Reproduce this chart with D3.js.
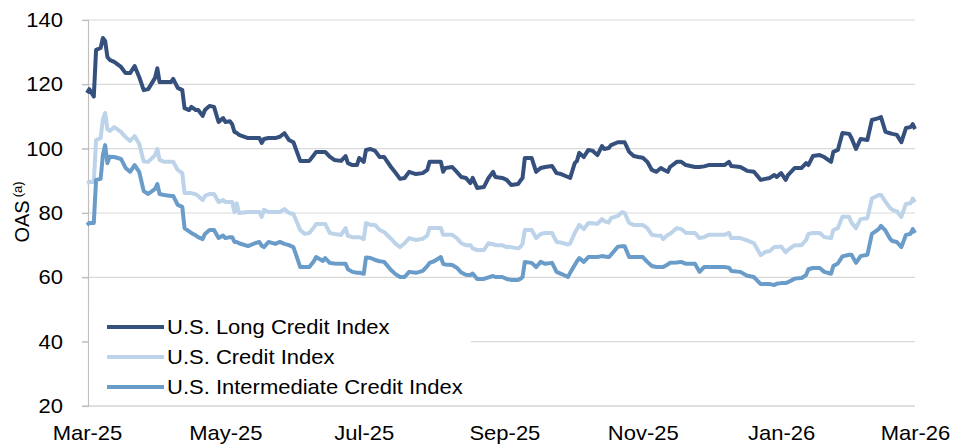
<!DOCTYPE html>
<html>
<head>
<meta charset="utf-8">
<script src="https://cdn.jsdelivr.net/npm/d3@7"></script>
<style>
  html, body { margin: 0; padding: 0; background: #fff; }
  svg text { font-family: "Liberation Sans", Arial, sans-serif; fill: #000; }
</style>
</head>
<body>
<svg id="chart" width="953" height="448"></svg>
<script>
// dates (roughly every 2 days)
const dates = [
  "2025-03-01","2025-03-02","2025-03-04","2025-03-05","2025-03-07","2025-03-08","2025-03-09","2025-03-10","2025-03-11","2025-03-13",
  "2025-03-16","2025-03-18","2025-03-20","2025-03-22","2025-03-24","2025-03-26","2025-03-28","2025-03-31","2025-04-01","2025-04-02",
  "2025-04-04","2025-04-07","2025-04-08","2025-04-10","2025-04-12","2025-04-13","2025-04-15","2025-04-16","2025-04-18","2025-04-19",
  "2025-04-21","2025-04-22","2025-04-24","2025-04-26","2025-04-28","2025-04-30","2025-05-01","2025-05-03","2025-05-04","2025-05-05",
  "2025-05-06","2025-05-07","2025-05-11","2025-05-14","2025-05-16","2025-05-17","2025-05-18","2025-05-20","2025-05-23","2025-05-25",
  "2025-05-27","2025-05-29","2025-05-31","2025-06-03","2025-06-05","2025-06-07","2025-06-09","2025-06-10","2025-06-13","2025-06-14",
  "2025-06-16","2025-06-18","2025-06-21","2025-06-23","2025-06-24","2025-06-26","2025-06-28","2025-06-29","2025-07-01","2025-07-02",
  "2025-07-04","2025-07-06","2025-07-08","2025-07-10","2025-07-13","2025-07-15","2025-07-17","2025-07-19","2025-07-21","2025-07-24",
  "2025-07-27","2025-07-29","2025-07-30","2025-08-01","2025-08-04","2025-08-05","2025-08-06","2025-08-09","2025-08-11","2025-08-13",
  "2025-08-15","2025-08-17","2025-08-18","2025-08-20","2025-08-23","2025-08-25","2025-08-27","2025-08-28","2025-08-31","2025-09-02",
  "2025-09-04","2025-09-07","2025-09-08","2025-09-09","2025-09-10","2025-09-13","2025-09-15","2025-09-17","2025-09-19","2025-09-22",
  "2025-09-24","2025-09-26","2025-09-29","2025-09-30","2025-10-02","2025-10-03","2025-10-04","2025-10-06","2025-10-08","2025-10-10",
  "2025-10-12","2025-10-14","2025-10-15","2025-10-17","2025-10-18","2025-10-21","2025-10-23","2025-10-24","2025-10-26","2025-10-28",
  "2025-10-30","2025-11-01","2025-11-03","2025-11-05","2025-11-07","2025-11-09","2025-11-10","2025-11-12","2025-11-13","2025-11-16",
  "2025-11-18","2025-11-20","2025-11-24","2025-11-26","2025-11-28","2025-11-30","2025-12-07","2025-12-09","2025-12-10","2025-12-14",
  "2025-12-17","2025-12-20","2025-12-23","2025-12-25","2025-12-27","2025-12-29","2025-12-30","2026-01-01","2026-01-03","2026-01-04",
  "2026-01-07","2026-01-10","2026-01-12","2026-01-13","2026-01-15","2026-01-18","2026-01-20","2026-01-23","2026-01-24","2026-01-26",
  "2026-01-28","2026-01-31","2026-02-01","2026-02-03","2026-02-05","2026-02-08","2026-02-10","2026-02-13","2026-02-14","2026-02-16",
  "2026-02-18","2026-02-19","2026-02-21","2026-02-23","2026-02-25","2026-02-27","2026-02-28","2026-03-01"
];

const longCredit = [
  117.3,118.5,116.2,130.7,131.3,134.4,133.5,128.5,127.6,127.0,
  125.4,123.5,123.5,125.7,122.3,118.2,118.5,122.0,125.0,120.7,
  120.7,120.7,121.7,118.9,118.2,112.6,112.0,113.0,112.0,112.0,
  110.2,112.0,113.3,113.0,108.3,109.5,108.3,108.5,107.6,105.2,
  104.9,104.3,103.3,103.3,103.3,101.8,103.0,103.3,103.3,103.7,
  104.8,102.7,102.0,96.2,96.2,96.2,98.0,99.0,99.0,99.0,
  97.5,96.5,96.2,97.7,95.5,94.9,94.9,97.1,95.9,99.6,
  99.9,99.3,97.4,97.4,94.3,92.5,90.6,90.9,92.8,92.1,
  92.4,93.4,95.9,95.9,95.9,92.8,94.0,94.3,92.8,91.2,
  90.9,89.3,90.9,87.8,88.1,90.9,92.8,91.2,90.9,90.3,
  88.7,89.0,90.0,90.9,97.1,97.1,92.8,94.0,94.3,94.6,
  92.4,92.1,91.2,90.9,95.5,96.2,98.7,97.4,99.6,99.3,
  98.0,100.8,99.9,100.2,101.1,102.0,102.0,102.0,99.0,97.7,
  97.4,97.2,95.9,93.4,92.8,94.0,93.5,92.8,94.3,95.9,
  95.9,94.9,94.3,94.3,94.5,94.9,94.9,95.9,94.6,94.3,
  93.1,92.8,90.3,90.6,90.9,91.8,91.2,92.4,90.3,91.8,
  94.0,94.0,95.5,94.9,97.7,98.0,97.4,95.9,99.0,99.6,
  104.9,104.6,103.3,99.9,103.0,102.7,108.9,109.5,109.8,105.2,
  104.8,104.6,104.3,102.0,106.4,106.7,107.6,106.1
];

const credit = [
  89.3,89.6,89.6,102.7,103.3,109.0,111.1,106.0,105.5,106.7,
  105.2,103.6,102.4,103.9,101.5,96.0,95.9,98.0,99.9,96.5,
  95.9,95.9,95.9,93.4,92.4,86.2,86.2,86.2,85.8,85.3,
  84.0,85.3,85.9,85.9,83.4,84.0,83.4,83.4,83.4,80.3,
  83.0,80.0,80.3,80.3,80.3,78.8,81.0,80.3,80.3,80.3,
  81.2,80.0,79.7,74.7,73.5,73.8,75.5,76.6,76.6,76.6,
  73.8,73.5,73.2,75.3,72.9,72.5,72.5,72.5,71.9,76.9,
  76.3,76.3,74.7,74.1,72.0,70.5,69.4,70.6,72.2,71.6,
  72.0,73.0,75.3,75.3,75.3,73.2,73.2,73.2,72.2,70.6,
  70.0,70.0,69.0,68.5,68.5,70.6,70.3,70.0,70.0,69.4,
  69.4,69.0,69.4,70.5,74.7,74.7,72.2,73.5,73.8,73.8,
  71.0,70.8,70.2,70.5,73.8,75.0,76.3,75.0,76.9,76.8,
  76.6,78.1,77.5,77.0,78.4,79.1,80.3,80.0,76.9,76.3,
  76.3,76.3,75.3,73.2,73.0,72.9,71.9,73.2,73.5,75.3,
  75.0,73.8,73.8,72.2,72.5,73.2,73.2,73.8,72.2,72.2,
  71.5,70.6,66.9,67.9,68.2,69.4,69.4,69.6,67.8,68.5,
  70.0,70.0,71.6,73.5,73.8,73.8,72.5,72.2,74.7,75.3,
  78.8,78.8,77.0,75.3,78.1,78.4,84.5,85.6,85.6,83.5,
  81.6,81.0,80.5,78.8,82.8,83.0,84.5,83.4
];

const intermediate = [
  76.3,76.9,76.9,90.3,90.6,98.0,101.1,95.5,97.5,97.4,
  96.8,94.0,92.8,94.9,92.8,86.8,85.9,87.5,89.0,85.9,
  85.6,85.3,85.3,82.5,81.9,75.3,74.3,73.8,73.0,72.5,
  71.9,73.5,74.7,74.7,72.2,73.0,72.2,72.5,72.5,71.0,
  71.0,70.6,69.7,70.6,71.0,69.8,69.4,71.0,70.4,71.0,
  70.4,70.0,69.4,63.2,63.2,63.2,65.0,66.3,65.1,66.0,
  64.5,64.3,64.2,64.2,62.5,61.7,61.4,61.4,61.1,66.2,
  66.0,65.4,65.0,64.8,62.3,61.0,60.1,60.1,61.7,61.4,
  62.0,63.5,64.5,65.0,66.3,64.2,64.0,63.8,63.0,61.5,
  60.8,60.7,61.2,59.5,59.5,60.0,60.4,60.1,60.1,59.5,
  59.2,59.2,59.5,60.1,64.8,64.5,63.2,64.8,64.2,64.5,
  61.7,61.1,60.1,61.4,63.8,65.0,66.0,64.8,66.3,66.3,
  66.3,66.6,66.5,66.3,67.0,69.5,69.7,69.7,66.3,66.3,
  66.3,66.3,64.8,63.5,63.2,63.2,63.2,64.0,64.5,64.6,
  64.8,64.2,64.2,61.7,63.2,63.2,63.2,63.0,62.0,61.7,
  60.5,60.1,57.9,57.9,57.9,57.6,58.0,58.2,58.2,58.5,
  59.6,59.8,60.7,62.5,62.9,62.9,61.7,61.1,63.5,64.3,
  66.5,67.0,67.0,64.5,66.6,67.0,73.5,75.0,76.0,74.5,
  72.0,71.3,71.0,69.4,73.2,73.5,75.0,73.8
];

const seriesNames = ["U.S. Long Credit Index", "U.S. Credit Index", "U.S. Intermediate Credit Index"];
const seriesColors = ["#35507c", "#bdd3ea", "#6a9cc9"];
const yTicks = [20, 40, 60, 80, 100, 120, 140];
const xTicks = ["2025-03-01", "2025-05-01", "2025-07-01", "2025-09-01", "2025-11-01", "2026-01-01", "2026-03-01"];

const parse = d3.timeParse("%Y-%m-%d");
const svg = d3.select("#chart");

// plot area
const x = d3.scaleTime()
  .domain([parse("2025-03-01"), parse("2026-03-01")])
  .range([87, 915]);
const y = d3.scaleLinear().domain([20, 140]).range([406, 20]);
const stretch = "scale(1.1,1)";

// grid lines
svg.append("g")
  .selectAll("line")
  .data(yTicks)
  .join("line")
  .attr("x1", 82)
  .attr("x2", 915)
  .attr("y1", d => y(d))
  .attr("y2", d => y(d))
  .attr("stroke", (d) => d === 20 ? "#bfbfbf" : "#d9d9d9")
  .attr("stroke-width", 1.2);

// y axis
const yAxis = svg.append("g")
  .attr("transform", "translate(88,0)")
  .call(d3.axisLeft(y).tickValues(yTicks).tickSize(6));
yAxis.select(".domain").attr("stroke", "#bfbfbf").attr("stroke-width", 1.2);
yAxis.selectAll(".tick line").attr("stroke", "#bfbfbf").attr("stroke-width", 1.2);
yAxis.selectAll(".tick text")
  .attr("x", 0)
  .attr("font-size", 20)
  .attr("text-anchor", "end")
  .attr("transform", "translate(-25,0) " + stretch);

// x axis labels
const xAxis = svg.append("g")
  .attr("transform", "translate(0,406)")
  .call(d3.axisBottom(x)
    .tickValues(xTicks.map(parse))
    .tickFormat(d3.timeFormat("%b-%y"))
    .tickSize(0)
    .tickPadding(20));
xAxis.select(".domain").remove();
xAxis.selectAll(".tick text")
  .attr("font-size", 20)
  .attr("transform", stretch);

// y label
const yLab = svg.append("text")
  .attr("transform", "translate(29,212) rotate(-90)")
  .attr("text-anchor", "middle")
  .attr("font-size", 20);
yLab.append("tspan").text("OAS");
yLab.append("tspan").attr("font-size", 13).attr("dx", 3).attr("dy", -7).text("(a)");

// lines
const allSeries = [longCredit, credit, intermediate];
const line = d3.line()
  .x((d, i) => x(parse(dates[i])))
  .y(d => y(d));

svg.append("g")
  .selectAll("path")
  .data(allSeries)
  .join("path")
  .attr("d", d => line(d))
  .attr("fill", "none")
  .attr("stroke", (d, i) => seriesColors[i])
  .attr("stroke-width", 4)
  .attr("stroke-linejoin", "round");

// legend (white box hides gridlines underneath)
svg.append("rect")
  .attr("x", 89)
  .attr("y", 308)
  .attr("width", 382)
  .attr("height", 96)
  .attr("fill", "#fff");

const legend = svg.append("g")
  .selectAll("g")
  .data(seriesNames)
  .join("g")
  .attr("transform", (d, i) => "translate(107," + (327 + i * 30) + ")");
legend.append("line")
  .attr("x1", 0)
  .attr("x2", 57)
  .attr("stroke", (d, i) => seriesColors[i])
  .attr("stroke-width", 4);
legend.append("text")
  .attr("x", 0)
  .attr("y", 0)
  .attr("dy", "0.35em")
  .attr("font-size", 20)
  .attr("transform", "translate(60,0) " + stretch)
  .text(d => d);
</script>
</body>
</html>
